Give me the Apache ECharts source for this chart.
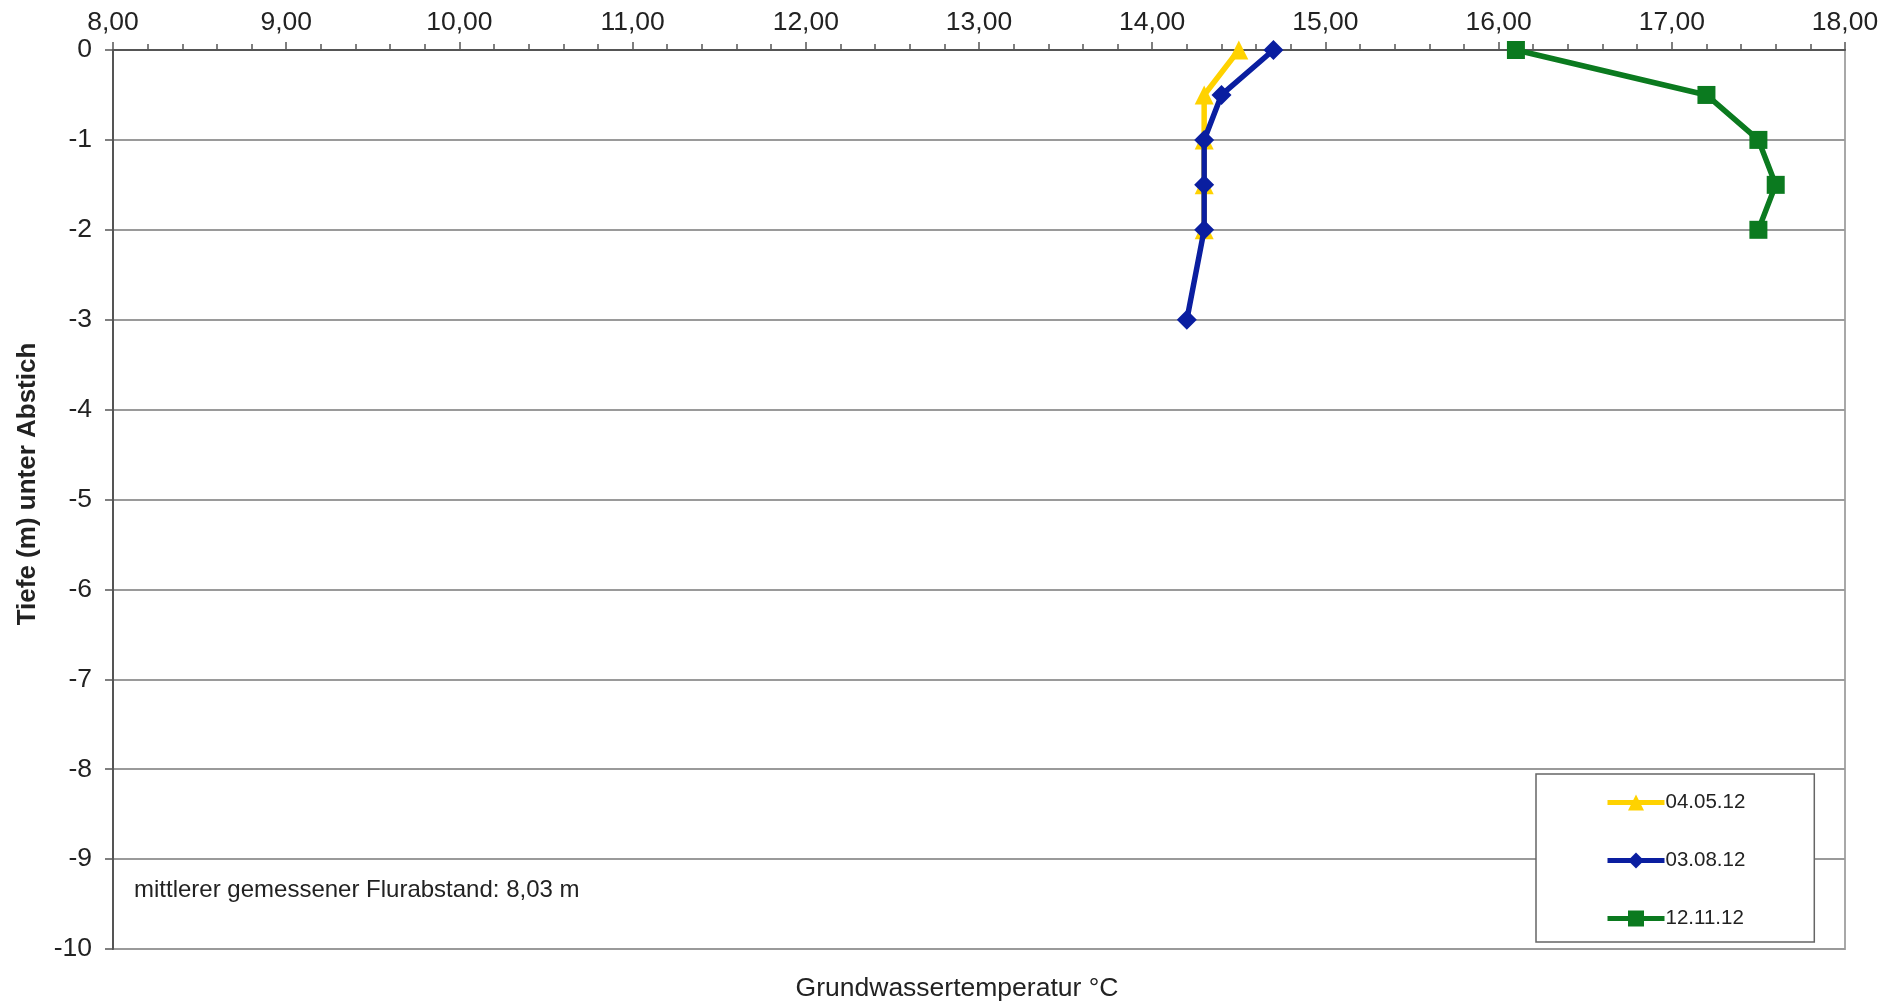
<!DOCTYPE html>
<html>
<head>
<meta charset="utf-8">
<script src="https://cdn.jsdelivr.net/npm/echarts@6/dist/echarts.min.js"></script>
<style>
html,body{margin:0;padding:0;background:#fff;}
#c{width:1894px;height:1004px;}
</style>
</head>
<body>
<div id="c"></div>
<script>
// ---- data ----
const depths = [0, -0.5, -1, -1.5, -2, -3];
const seriesNames = ['04.05.12', '03.08.12', '12.11.12'];
const temps0405 = [14.5, 14.3, 14.3, 14.3, 14.3];
const temps0308 = [14.7, 14.4, 14.3, 14.3, 14.3, 14.2];
const temps1211 = [16.1, 17.2, 17.5, 17.6, 17.5];
const xTickMin = 8, xTickMax = 18, xTickStep = 1;
const yTickMin = -10, yTickMax = 0, yTickStep = 1;
const xAxisTitle = 'Grundwassertemperatur °C';
const yAxisTitle = 'Tiefe (m) unter Abstich';
const noteText = 'mittlerer gemessener Flurabstand: 8,03 m';

function pairs(temps) { return temps.map((t, i) => [t, depths[i]]); }

const FONT = '"Liberation Sans", Arial, sans-serif';
const chart = echarts.init(document.getElementById('c'), null, {renderer: 'canvas'});

const colors = ['#FFD200', '#0A1EA0', '#0B7A1F'];
const symbols = ['triangle', 'diamond', 'rect'];
const symSizes = [19, 20, 18];
const dataSets = [temps0405, temps0308, temps1211];

chart.setOption({
  animation: false,
  backgroundColor: '#fff',
  grid: {
    left: 113, right: 49, top: 50, bottom: 55,
    show: true, borderColor: '#a8a8a8', borderWidth: 2,
    outerBoundsMode: 'none', containLabel: false
  },
  xAxis: {
    type: 'value', position: 'top',
    min: xTickMin, max: xTickMax, interval: xTickStep,
    axisLine: {show: true, onZero: false, lineStyle: {color: '#555', width: 2}},
    axisTick: {show: true, inside: false, length: 8, lineStyle: {color: '#555', width: 1.5}},
    minorTick: {show: true, splitNumber: 5, length: 6, lineStyle: {color: '#555', width: 1.5}},
    axisLabel: {
      fontFamily: FONT, fontSize: 26.5, color: '#222', margin: 14,
      formatter: v => v.toFixed(2).replace('.', ',')
    },
    splitLine: {show: false}
  },
  yAxis: {
    type: 'value',
    min: yTickMin, max: yTickMax, interval: yTickStep,
    axisLine: {show: true, onZero: false, lineStyle: {color: '#555', width: 2}},
    axisTick: {show: true, inside: false, length: 8, lineStyle: {color: '#555', width: 1.5}},
    axisLabel: {fontFamily: FONT, fontSize: 26.5, color: '#222', margin: 21},
    splitLine: {show: true, lineStyle: {color: '#9a9a9a', width: 2}}
  },
  legend: {
    orient: 'vertical',
    left: 1536, top: 774,
    padding: [18, 69, 13, 69],
    itemGap: 37,
    itemWidth: 57, itemHeight: 20,
    borderColor: '#666', borderWidth: 1.5,
    backgroundColor: '#fff',
    lineStyle: {width: 5},
    textStyle: {fontFamily: FONT, fontSize: 20.5, color: '#222', padding: [0, 0, 0, -4]},
    data: seriesNames
  },
  series: seriesNames.map((n, i) => ({
    name: n,
    type: 'line',
    data: pairs(dataSets[i]),
    symbol: symbols[i],
    symbolSize: symSizes[i],
    showSymbol: true,
    color: colors[i],
    lineStyle: {color: colors[i], width: 5.5},
    itemStyle: {color: colors[i]},
    z: 2 + i
  })),
  graphic: [
    {
      type: 'text', left: 134, top: 878,
      style: {text: noteText, font: '24px ' + FONT, fill: '#222'}
    },
    {
      type: 'text', x: 957, y: 989,
      style: {text: xAxisTitle, font: '26.5px ' + FONT, fill: '#222', align: 'center', verticalAlign: 'middle'}
    },
    {
      type: 'text', x: 28, y: 484, rotation: Math.PI / 2,
      style: {text: yAxisTitle, font: 'bold 26px ' + FONT, fill: '#222', align: 'center', verticalAlign: 'middle'}
    }
  ]
});
</script>
</body>
</html>
